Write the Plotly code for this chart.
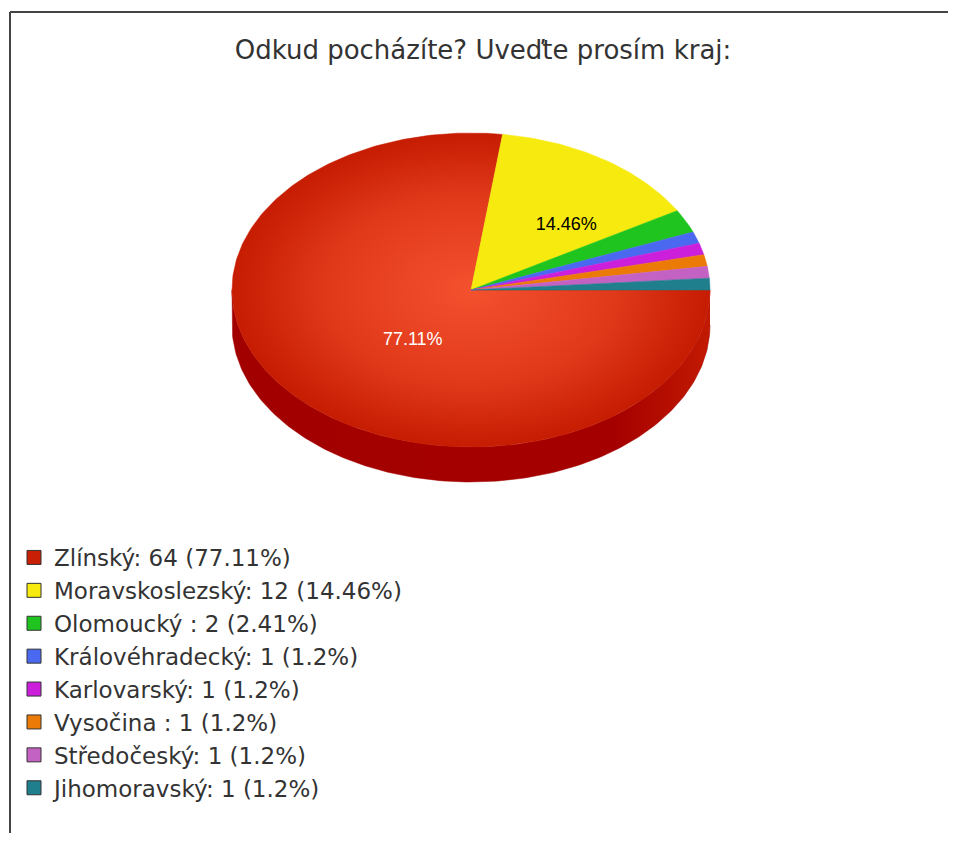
import numpy as np
import plotly.graph_objects as go

TITLE = "Odkud pocházíte? Uveďte prosím kraj:"

regions = [
    "Zlínský",
    "Moravskoslezský",
    "Olomoucký ",
    "Královéhradecký",
    "Karlovarský",
    "Vysočina ",
    "Středočeský",
    "Jihomoravský",
]
counts = [64, 12, 2, 1, 1, 1, 1, 1]
colors = ["#c91f04", "#f6ea0e", "#1fc41f", "#4a68f0", "#cc1fdc", "#ec7a06", "#c462c4", "#1f7f8c"]

# pie geometry in screen pixels (page has an 8px body margin)
CX, CY, RX, RY, DEPTH = 471, 290, 239, 157, 35
W, H, OFF = 940, 825, 8


def arc(t0, t1, dy=0.0):
    t = np.radians(np.linspace(t0, t1, max(3, int(abs(t1 - t0)) + 2)))
    return CX + RX * np.cos(t), CY + dy + RY * np.sin(t)


total = sum(counts)
pcts = [round(100 * c / total, 2) for c in counts]
labels = [f"{r}: {c} ({p:g}%)" for r, c, p in zip(regions, counts, pcts)]

fig = go.Figure()

# side of the tilted pie (front half only; the big slice covers it all)
xs_top, ys_top = arc(0, 180)
xs_bot, ys_bot = arc(180, 0, DEPTH)
fig.add_trace(
    go.Scatter(
        x=np.r_[xs_top, xs_bot],
        y=np.r_[ys_top, ys_bot],
        fill="toself",
        mode="lines",
        line=dict(width=0.5, color="#a40000"),
        fillcolor="#a40000",
        fillgradient=dict(
            type="horizontal",
            colorscale=[[0, "#a20000"], [0.8, "#a50000"], [1, "#c21a02"]],
        ),
        hoverinfo="skip",
        showlegend=False,
    )
)

# top face slices, clockwise from 3 o'clock
start = 0.0
mids = []
for i, (c, col) in enumerate(zip(counts, colors)):
    sweep = 360.0 * c / total
    ax, ay = arc(start, start + sweep)
    kw = {}
    if i == 0:
        kw["fillgradient"] = dict(
            type="radial", colorscale=[[0, "#f4512f"], [0.6, "#e0391a"], [1, "#c61c02"]]
        )
    fig.add_trace(
        go.Scatter(
            x=np.r_[CX, ax, CX],
            y=np.r_[CY, ay, CY],
            fill="toself",
            mode="lines",
            line=dict(width=0.5, color=col),
            fillcolor=col,
            hoverinfo="text",
            text=labels[i],
            showlegend=False,
            **kw,
        )
    )
    mids.append(start + sweep / 2)
    start += sweep

# percentage labels on the large slices
lab_x, lab_y, lab_t, lab_c = [], [], [], []
for i, (p, m) in enumerate(zip(pcts, mids)):
    if p < 5:
        continue
    t = np.radians(m)
    lab_x.append(CX + 0.49 * RX * np.cos(t))
    lab_y.append(CY + 0.49 * RY * np.sin(t))
    lab_t.append(f"{p:g}%")
    lab_c.append("#ffffff" if i == 0 else "#000000")
fig.add_trace(
    go.Scatter(
        x=lab_x,
        y=lab_y,
        mode="text",
        text=lab_t,
        textposition="middle right",
        textfont=dict(family="Liberation Sans, Arial", size=18, color=lab_c),
        hoverinfo="skip",
        showlegend=False,
    )
)

# legend entries
for lab, col in zip(labels, colors):
    fig.add_trace(
        go.Scatter(
            x=[None],
            y=[None],
            mode="markers",
            name=lab,
            marker=dict(symbol="square", size=14, color=col, line=dict(color="#333333", width=1)),
        )
    )

fig.update_layout(
    width=W,
    height=H,
    margin=dict(l=0, r=0, t=0, b=0),
    paper_bgcolor="white",
    plot_bgcolor="white",
    title=dict(
        text=TITLE,
        x=(483 - OFF) / W,
        y=1 - (50 - OFF) / H,
        xanchor="center",
        yanchor="middle",
        font=dict(family="DejaVu Sans", size=26, color="#333333"),
    ),
    legend=dict(
        x=(14 - OFF) / W,
        y=1 - (536 - OFF) / H,
        xanchor="left",
        yanchor="top",
        font=dict(family="DejaVu Sans", size=23, color="#333333"),
        itemsizing="trace",
        bgcolor="rgba(0,0,0,0)",
    ),
    xaxis=dict(range=[OFF, OFF + W], visible=False, fixedrange=True),
    yaxis=dict(range=[OFF + H, OFF], visible=False, fixedrange=True),
    shapes=[
        dict(type="line", x0=10, x1=OFF + W, y0=12, y1=12, xref="x", yref="y",
             line=dict(color="#444444", width=2)),
        dict(type="line", x0=10, x1=10, y0=12, y1=OFF + H, xref="x", yref="y",
             line=dict(color="#444444", width=2)),
    ],
)

fig.write_html("out.html")
